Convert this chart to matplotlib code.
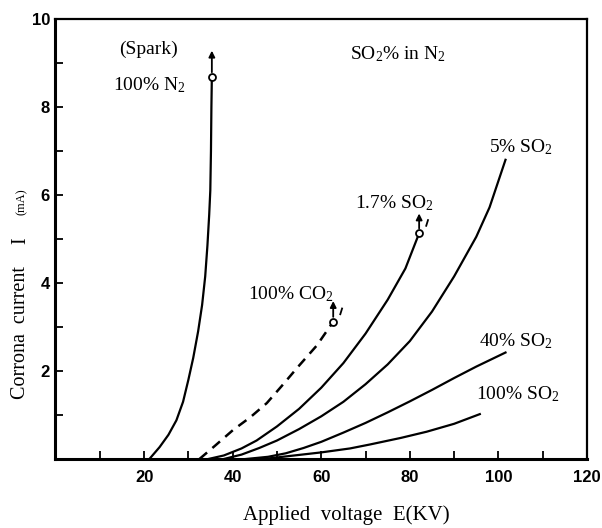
import matplotlib
matplotlib.use("Agg")
import matplotlib.pyplot as plt
from matplotlib.ticker import MultipleLocator, FixedLocator

plt.rcParams['mathtext.fontset'] = 'custom'
plt.rcParams['mathtext.rm'] = 'Liberation Serif'
plt.rcParams['mathtext.it'] = 'Liberation Serif:italic'
plt.rcParams['font.family'] = ['Liberation Serif', 'DejaVu Serif']

# ---- data ----
n2_x = [21.2, 23.5, 25.5, 27.3, 28.8, 30.0, 31.1, 32.2, 33.1, 33.8, 34.3, 34.7, 34.95, 35.1, 35.2, 35.3]
n2_y = [0.0, 0.27, 0.55, 0.88, 1.30, 1.80, 2.30, 2.90, 3.50, 4.15, 4.85, 5.55, 6.1, 7.0, 8.0, 8.68]

co2_x = [32.5, 36.0, 40.1, 44.0, 47.7, 51.0, 54.8, 59.0, 62.7]
co2_y = [0.0, 0.30, 0.66, 0.95, 1.27, 1.65, 2.10, 2.58, 3.12]

so2_17_x = [34.5, 38.0, 42.0, 45.4, 50.0, 55.0, 60.0, 65.0, 70.0, 75.0, 79.0, 82.1]
so2_17_y = [0.0, 0.08, 0.24, 0.42, 0.74, 1.14, 1.62, 2.18, 2.85, 3.62, 4.33, 5.13]

so2_5_x = [38.0, 42.0, 46.0, 50.0, 55.0, 60.0, 65.0, 70.0, 75.0, 80.0, 85.0, 90.0, 95.0, 98.0, 101.6]
so2_5_y = [0.0, 0.10, 0.25, 0.42, 0.68, 0.97, 1.30, 1.70, 2.15, 2.68, 3.35, 4.15, 5.05, 5.72, 6.80]

so2_40_x = [43.0, 48.0, 52.0, 56.0, 60.0, 65.0, 70.0, 75.0, 80.0, 85.0, 90.0, 95.0, 101.6]
so2_40_y = [0.0, 0.05, 0.13, 0.25, 0.39, 0.60, 0.82, 1.06, 1.31, 1.57, 1.84, 2.10, 2.42]

so2_100_x = [47.0, 53.0, 60.0, 66.5, 71.0, 78.0, 83.8, 90.0, 95.8]
so2_100_y = [0.0, 0.07, 0.15, 0.24, 0.33, 0.48, 0.62, 0.80, 1.02]

x_ticks = [20, 40, 60, 80, 100, 120]
y_ticks = [2, 4, 6, 8, 10]

labels = [
    ("(Spark)", 21.1, 9.3),
    ("100% N$_2$", 21.3, 8.5),
    ("SO$_2$% in N$_2$", 77.3, 9.2),
    ("5% SO$_2$", 105.0, 7.09),
    ("1.7% SO$_2$", 76.6, 5.82),
    ("100% CO$_2$", 53.1, 3.75),
    ("40% SO$_2$", 104.0, 2.68),
    ("100% SO$_2$", 104.4, 1.48),
]

# ---- figure ----
fig = plt.figure(figsize=(6.02, 5.28), dpi=100)
ax = fig.add_axes([55.5 / 602, 69 / 528, (587 - 55.5) / 602, (459 - 19) / 528])

lw = 1.6
ax.plot(n2_x, n2_y, color='k', lw=lw, solid_capstyle='round', solid_joinstyle='round')
ax.plot(co2_x, co2_y, color='k', lw=lw + 0.2, linestyle=(0, (4, 2.8)))
for xs, ys in [(so2_17_x, so2_17_y), (so2_5_x, so2_5_y), (so2_40_x, so2_40_y), (so2_100_x, so2_100_y)]:
    ax.plot(xs, ys, color='k', lw=lw, solid_joinstyle='round')

# end markers (open circles) + spark arrows
for xs, ys, dy in [(n2_x, n2_y, 0.6), (co2_x, co2_y, 0.47), (so2_17_x, so2_17_y, 0.45)]:
    ax.plot([xs[-1]], [ys[-1]], marker='o', ms=5, mfc='white', mec='k', mew=1.3, zorder=5)
    ax.annotate('', xy=(xs[-1], ys[-1] + dy), xytext=(xs[-1], ys[-1]),
                arrowprops=dict(arrowstyle='-|>', lw=1.3, color='k',
                                mutation_scale=9, shrinkA=3.5, shrinkB=0))

# small tick marks beside the CO2 and 1.7% arrows
for xs, ys in [(co2_x, co2_y), (so2_17_x, so2_17_y)]:
    ax.plot([xs[-1] + 1.6, xs[-1] + 2.0], [ys[-1] + 0.17, ys[-1] + 0.3], color='k', lw=1.3)

for txt, x, y in labels:
    ax.text(x, y, txt, ha='center', va='center', fontsize=14)

ax.set_xlim(0, 120)
ax.set_ylim(0, 10)
ax.xaxis.set_major_locator(FixedLocator(x_ticks))
ax.yaxis.set_major_locator(FixedLocator(y_ticks))
ax.xaxis.set_minor_locator(MultipleLocator(10))
ax.yaxis.set_minor_locator(MultipleLocator(1))
ax.tick_params(which='both', direction='in', length=6, width=1.3, top=False, right=False)
ax.tick_params(axis='x', which='major', pad=8)
ax.tick_params(axis='y', which='major', pad=4)
for lab in ax.get_xticklabels() + ax.get_yticklabels():
    lab.set_fontfamily(['Liberation Sans Narrow', 'Liberation Sans', 'DejaVu Sans'])
    lab.set_fontweight('bold')
    lab.set_fontsize(12)

ax.spines['left'].set_linewidth(2.2)
ax.spines['bottom'].set_linewidth(2.2)
ax.spines['top'].set_linewidth(1.6)
ax.spines['right'].set_linewidth(1.6)

fig.text(346 / 602, 1 - 515 / 528, "Applied  voltage  E(KV)", ha='center', va='center', fontsize=15)
fig.text(21 / 602, 1 - 333 / 528, "Corrona  current", ha='center', va='center', fontsize=14.5, rotation=90)
fig.text(21 / 602, 1 - 241 / 528, "I", ha='center', va='center', fontsize=14.5, rotation=90)
fig.text(22 / 602, 1 - 202 / 528, "(mA)", ha='center', va='center', fontsize=9, rotation=90)

fig.savefig("out.png", dpi=100)
